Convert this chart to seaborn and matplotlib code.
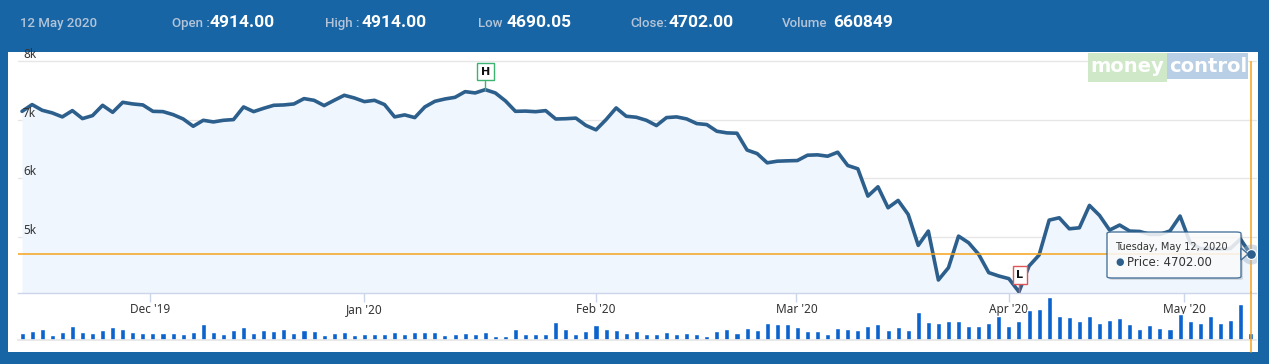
import numpy as np
import matplotlib.pyplot as plt
import seaborn as sns
from matplotlib.patches import Rectangle, FancyBboxPatch, Polygon

# daily close, trading days 13 Nov 2019 .. 12 May 2020
price = [7141, 7256, 7159, 7114, 7046, 7153, 7017, 7068, 7244, 7124,
         7295, 7267, 7250, 7141, 7136, 7085, 7011, 6886, 6988, 6960,
         6988, 7000, 7216, 7136, 7193, 7244, 7250, 7267, 7358, 7329,
         7239, 7329, 7415, 7369, 7307, 7329, 7256, 7046, 7080, 7034,
         7216, 7312, 7352, 7380, 7477, 7455, 7511, 7455, 7320, 7141,
         7145, 7135, 7153, 7010, 7015, 7025, 6900, 6825, 7000, 7199,
         7057, 7040, 6988, 6898, 7034, 7046, 7011, 6932, 6915, 6801,
         6773, 6767, 6480, 6420, 6262, 6290, 6296, 6301, 6392, 6398,
         6375, 6443, 6216, 6160, 5694, 5853, 5495, 5620, 5381, 4853,
         5097, 4262, 4472, 5011, 4898, 4700, 4388, 4330, 4285, 4060,
         4500, 4688, 5284, 5324, 5136, 5153, 5535, 5364, 5114, 5200,
         5097, 5090, 5040, 5040, 5100, 5353, 4900, 4800, 4790, 4790,
         4800, 4960, 4702]

# daily volume (thousands)
volume = [660, 810, 990, 450, 720, 1260, 720, 630, 900, 1170,
          990, 720, 660, 660, 660, 630, 570, 750, 1440, 750,
          570, 900, 1170, 660, 900, 810, 990, 660, 900, 810,
          480, 660, 720, 480, 540, 540, 540, 720, 540, 720,
          720, 720, 480, 540, 630, 540, 720, 390, 390, 990,
          540, 540, 540, 1620, 990, 540, 810, 1350, 990, 900,
          660, 810, 540, 540, 720, 540, 630, 540, 360, 810,
          990, 630, 1080, 900, 1530, 1440, 1440, 1170, 810, 810,
          540, 1080, 990, 900, 1260, 1440, 900, 1170, 900, 2520,
          1620, 1530, 1710, 1710, 1260, 1260, 1530, 2160, 1260, 1710,
          2700, 2790, 3870, 2160, 2070, 1710, 2160, 1530, 1800, 1980,
          1440, 990, 1350, 1080, 990, 2340, 1710, 1530, 2160, 1530,
          1800, 3240, 661]

day = np.arange(len(price))

month_pos = [12.7, 34, 57, 76.9, 98, 115.4]
month_labels = ["Dec '19", "Jan '20", "Feb '20", "Mar '20", "Apr '20", "May '20"]
price_ticks = [5000, 6000, 7000, 8000]
price_tick_labels = ["5k", "6k", "7k", "8k"]

header_date = "12 May 2020"
header_names = ["Open :", "High :", "Low", "Close:", "Volume"]
header_values = ["4914.00", "4914.00", "4690.05", "4702.00", "660849"]
tooltip_date = "Tuesday, May 12, 2020"
last_price = 4702.00
high_idx, low_idx = 46, 99

W, H = 1269, 364


def fx(px):
    return px / W


def fy(py):
    return 1 - py / H


sns.set_theme(style="white")
plt.rcParams["font.family"] = ["DejaVu Sans"]

fig = plt.figure(figsize=(12.69, 3.64), dpi=100)
fig.patch.set_facecolor("#1865a5")
fig.add_artist(Rectangle((fx(8), fy(352)), (1258 - 8) / W, (352 - 52) / H,
                         transform=fig.transFigure, fc="white", ec="none", zorder=-5))

# header
fig.text(fx(20), fy(27), header_date, color="#b3c4d8", fontsize=9.5,
         family="Roboto", fontweight="medium", va="baseline")
name_x = [172, 325, 478, 630, 782]
val_x = [210, 362, 507, 669, 833]
for nx, vx, n, v in zip(name_x, val_x, header_names, header_values):
    fig.text(fx(nx), fy(27), n, color="#b3c4d8", fontsize=9.5, family="Roboto",
             fontweight="medium", va="baseline")
    fig.text(fx(vx), fy(27), v, color="white", fontsize=12.5, family="Roboto",
             fontweight="bold", va="baseline")

# price pane
ax = fig.add_axes([fx(18), fy(293), (1256 - 18) / W, (293 - 61) / H])
ax.set_facecolor("none")
ymin, ymax = 4040, 8000
for v in price_ticks:
    ax.axhline(v, color="#e6e6e6", lw=1, zorder=0, clip_on=False)
ax.fill_between(day, price, ymin, color="#eff6fe", lw=0, zorder=1)
sns.lineplot(x=day, y=price, ax=ax, color="#2d5f8c", linewidth=2.6, zorder=3,
             solid_joinstyle="round", solid_capstyle="round")
ax.set_xlim(-0.4, 122.54)
ax.set_ylim(ymin, ymax)
ax.set_xlabel("")
ax.set_ylabel("")
ax.set_yticks([])
ax.set_xticks(month_pos)
ax.set_xticklabels(month_labels, family="Noto Sans", fontsize=8.5, color="#333333")
ax.tick_params(axis="x", length=6.5, width=1, color="#ccd6eb", pad=1, bottom=True)
for s in ["left", "right", "top"]:
    ax.spines[s].set_visible(False)
ax.spines["bottom"].set_color("#ccd6eb")
ax.spines["bottom"].set_linewidth(1)
for v, lab in zip(price_ticks, price_tick_labels):
    ax.text(0.004, v, lab, transform=ax.get_yaxis_transform(), fontsize=8.5,
            family="Noto Sans", color="#333333", va="bottom", ha="left")

# crosshair + current point
ax.axhline(last_price, color="#f5a31b", lw=1.1, zorder=4)
ax.axvline(day[-1], color="#f5a31b", lw=1.1, zorder=4)
ax.scatter([day[-1]], [last_price], s=210, color="#9fb2c6", alpha=0.45, lw=0, zorder=5)
ax.scatter([day[-1]], [last_price], s=50, color="#2d5f8c", edgecolor="white", lw=0.8, zorder=6)

# high / low flags
ax.plot([high_idx, high_idx], [price[high_idx], 7660], color="#3cb371", lw=1, zorder=4)
ax.text(high_idx, 7820, "H", ha="center", va="center", fontsize=8, fontweight="bold",
        color="#111111", zorder=6,
        bbox=dict(boxstyle="square,pad=0.35", fc="white", ec="#3cb371", lw=1))
ax.plot([low_idx, low_idx], [price[low_idx], 4180], color="#e05555", lw=1, zorder=4)
ax.text(low_idx + 0.1, 4345, "L", ha="center", va="center", fontsize=8, fontweight="bold",
        color="#111111", zorder=6,
        bbox=dict(boxstyle="square,pad=0.35", fc="white", ec="#e05555", lw=1))

# volume pane
axv = fig.add_axes([fx(18), fy(340), (1256 - 18) / W, (340 - 296) / H])
sns.barplot(x=day, y=volume, ax=axv, color="#0b63ce", width=0.5, saturation=1)
axv.set_facecolor("none")
axv.set_xlim(-0.4, 122.54)
axv.set_ylim(0, 3960)
axv.set_xticks([])
axv.set_yticks([])
axv.set_xlabel("")
axv.set_ylabel("")
for s in ["left", "right", "top"]:
    axv.spines[s].set_visible(False)
axv.spines["bottom"].set_color("#e6e6e6")
axv.axvline(day[-1], ymin=-0.27, ymax=1.1, color="#f5a31b", lw=1.1, clip_on=False, zorder=4)

# logo
fig.add_artist(Rectangle((fx(1088), fy(82)), 79 / W, 29 / H, transform=fig.transFigure,
                         fc="#cfe8c8", ec="none", zorder=8))
fig.add_artist(Rectangle((fx(1167), fy(79)), 81 / W, 26 / H, transform=fig.transFigure,
                         fc="#b9cfe6", ec="none", zorder=8))
fig.text(fx(1127), fy(67), "money", color="white", fontsize=14, fontweight="bold",
         ha="center", va="center", zorder=9)
fig.text(fx(1208), fy(66), "control", color="white", fontsize=14, fontweight="bold",
         ha="center", va="center", zorder=9)

# tooltip
fig.add_artist(FancyBboxPatch((fx(1109), fy(280)), 134 / W, 46 / H,
                              boxstyle="round,pad=0,rounding_size=0.004",
                              transform=fig.transFigure, fc="#000000", alpha=0.12,
                              ec="none", zorder=9))
fig.add_artist(FancyBboxPatch((fx(1107), fy(278)), 134 / W, 46 / H,
                              boxstyle="round,pad=0,rounding_size=0.004",
                              transform=fig.transFigure, fc="white", alpha=0.85,
                              ec="#2d5f8c", lw=1, zorder=10))
fig.add_artist(Polygon([(fx(1241), fy(248)), (fx(1248), fy(254)), (fx(1241), fy(260))],
                       closed=True, transform=fig.transFigure, fc="white", ec="#2d5f8c",
                       lw=1, alpha=0.85, zorder=10))
fig.text(fx(1115), fy(247), tooltip_date, fontsize=7, color="#333333", va="center", zorder=11)
fig.text(fx(1115), fy(262), "\u25cf", fontsize=7, color="#2d5f8c", va="center", zorder=11)
fig.text(fx(1127), fy(262), f"Price: {last_price:.2f}", fontsize=8.5, color="#333333",
         va="center", zorder=11)

fig.savefig("out.png", dpi=100, facecolor=fig.get_facecolor())
